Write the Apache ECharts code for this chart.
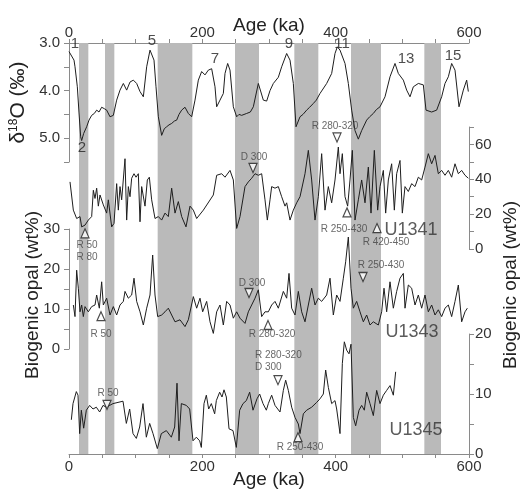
<!DOCTYPE html>
<html>
<head>
<meta charset="utf-8">
<script src="https://cdn.jsdelivr.net/npm/echarts@6/dist/echarts.min.js"></script>
<style>
  html, body { margin: 0; padding: 0; background: #fff; }
  #chart { width: 525px; height: 491px; }
</style>
</head>
<body>
<div id="chart"></div>
<script>
// glacial stages (ka), grey bands
var bands = [[15, 29], [54, 68], [133, 185], [249, 285], [338, 374], [423, 468], [533, 558]]

// benthic stack d18O (permil) vs age (ka)
var d18o = [[0, 3.18], [7.5, 3.36], [9, 3.5], [12.5, 3.92], [15, 4.47], [17.5, 4.97], [19, 5.05], [22, 4.9], [26.5, 4.76], [30, 4.62],
  [34, 4.52], [38, 4.48], [41.5, 4.41], [45, 4.45], [49, 4.35], [53, 4.38], [56.5, 4.41], [61.5, 4.55], [66.5, 4.52], [71.5, 4.2],
  [76.5, 3.99], [81.5, 3.85], [86.5, 3.99], [91.5, 3.82], [96.5, 3.78], [101.5, 3.85], [106.5, 4.02], [111.5, 4.13], [116.5, 3.5],
  [121.5, 3.15], [124, 3.12], [127.5, 3.36], [130.5, 3.92], [134, 4.55], [139, 4.94], [143, 4.8], [146.5, 4.76], [150, 4.72],
  [154, 4.69], [158, 4.64], [161.5, 4.62], [165, 4.5], [169, 4.41], [174, 4.35], [179, 4.48], [184, 4.55], [189, 4.2], [194, 3.78],
  [199, 3.6], [204, 3.67], [209, 3.57], [214, 3.54], [216.5, 3.5], [219, 3.92], [221.5, 4.34], [226.5, 4.2], [231.5, 4.06],
  [234, 3.64], [238, 3.43], [241.5, 3.57], [246.5, 4.34], [251.5, 4.55], [255, 4.5], [259, 4.52], [266.5, 4.48], [272, 4.45],
  [276.5, 4.34], [284, 3.85], [291.5, 4.2], [296.5, 4.22], [301.5, 4.0], [306.5, 3.85], [314, 3.72], [319, 3.5], [326.5, 3.22],
  [331.5, 3.36], [336.5, 3.85], [340.5, 4.76], [346.5, 4.55], [351, 4.5], [356.5, 4.41], [361, 4.35], [366.5, 4.27], [371, 4.2],
  [376.5, 4.06], [386.5, 3.85], [394, 3.64], [399, 3.22], [402.5, 3.08], [406.5, 3.15], [414, 3.43], [419, 3.85], [424, 4.41],
  [429, 4.84], [434, 5.02], [439, 4.84], [446.5, 4.62], [451, 4.55], [456.5, 4.48], [461, 4.4], [466.5, 4.34], [474, 4.13],
  [481.5, 3.71], [489, 3.43], [494, 3.64], [501.5, 3.78], [506.5, 3.99], [511.5, 4.13], [516.5, 3.92], [524, 3.85], [531.5, 3.88],
  [535.5, 4.41], [544, 4.45], [551.5, 4.41], [559, 4.13], [564, 3.85], [569, 3.71], [574, 3.43], [579, 3.57], [585, 4.34],
  [591.5, 3.99], [596.5, 3.78], [599, 4.02]]

// biogenic opal (wt%) vs age (ka)
var u1341 = [[1.5, 38.5], [6.5, 22.3], [11.5, 17.5], [16.5, 18.6], [19, 12.7], [24, 13.7], [29, 16.6], [34, 18.6], [36.5, 33.7],
  [39, 29], [41.5, 34.9], [44, 24.6], [46.5, 31], [51.5, 25.3], [56.5, 20.6], [59, 28.2], [64, 12.7], [67.5, 14.7], [71.5, 37.5],
  [74, 22.3], [76.5, 35.8], [79, 28.2], [84, 51.8], [86.5, 16.6], [89, 35.8], [91.5, 30], [94, 40.6], [97.5, 43.2], [100.5, 41.2],
  [104, 43.2], [106.5, 15.6], [109, 35.8], [114, 24.6], [117.5, 39.6], [120.5, 41.2], [124, 28.2], [129, 17.5], [134, 18.6],
  [139, 16.6], [144, 20.6], [149, 18.6], [154, 34.9], [159, 20.6], [164, 27.2], [169, 18.6], [175.5, 12.7], [181.5, 24.6],
  [186.5, 22.3], [191.5, 17.5], [201.5, 22.3], [216.5, 31], [221.5, 42.3], [229, 43.2], [234, 41.2], [241.5, 45.1], [246.5, 39.6],
  [251.5, 11.8], [256.5, 18.6], [264, 35.8], [269, 38.5], [274, 40.6], [279, 43.2], [284, 42.3], [289, 43.2], [294, 28.2],
  [297.5, 16.6], [301.5, 28.2], [304, 35.8], [309, 34.9], [314, 35.8], [319, 30], [324, 24.6], [326.5, 26.5], [331.5, 16.6],
  [336.5, 22.3], [341.5, 26.5], [346.5, 30], [354, 43.2], [359, 56.6], [364, 39.6], [369, 16.6], [374, 30], [379, 54.7],
  [384, 22.3], [389, 35.8], [394, 26.5], [399, 39.6], [404, 58.5], [406.5, 43.2], [410, 54.7], [414, 30], [418, 24.6],
  [421.5, 39.6], [425, 56.6], [429, 16.6], [434, 28.2], [439, 39.6], [444, 26.5], [449, 47], [453, 20.6], [458, 56.6],
  [463, 22.3], [466.5, 35.8], [471.5, 45.1], [475, 20.6], [479, 39.6], [484, 48.9], [488, 22.3], [491.5, 43.2], [496.5, 50.8],
  [500, 20.6], [504, 35.8], [509, 33], [514, 37.5], [519, 35.8], [524, 41.2], [529, 39.6], [534, 47], [539, 54.7], [544, 48.9],
  [549, 53.7], [554, 43.2], [559, 45.1], [564, 42.3], [569, 45.1], [574, 41.2], [579, 48.9], [584, 43.2], [589, 45.1],
  [594, 42.3], [599, 40.6]]

var u1343 = [[6.5, 11], [9, 8.1], [11.5, 19.7], [14, 15.2], [16.5, 9.3], [19, 11], [21.5, 8.1], [24, 10.6], [29, 9.3], [34, 10.6],
  [39, 11], [41.5, 13.5], [45.5, 10.2], [49, 16.8], [51.5, 11], [56.5, 12.7], [61.5, 8.5], [66.5, 10.6], [71.5, 8.5], [76.5, 11],
  [81.5, 11.9], [84, 14.4], [89, 12.7], [94, 13.5], [97.5, 17.7], [101.5, 11.9], [106.5, 9.3], [111.5, 6], [116.5, 10.2],
  [121.5, 13.5], [125.5, 23.5], [129, 13.5], [133, 8.1], [139, 8.5], [144, 9.3], [149, 10.2], [154, 8.5], [159, 6.8],
  [166.5, 7.3], [174, 5.6], [179, 7.3], [186.5, 13.1], [191.5, 10.2], [196.5, 12.7], [200.5, 9.3], [206.5, 11.9], [211.5, 6.8],
  [216.5, 3.9], [221.5, 9.3], [226.5, 11], [231.5, 6], [236.5, 11.9], [241.5, 11], [246.5, 7.7], [251.5, 9.3], [256.5, 7.7],
  [264, 6.4], [269, 9.3], [274, 11], [279, 12.7], [284, 14.8], [289, 8.1], [294, 9.3], [299, 9.3], [304, 11], [309, 11.9],
  [314, 10.2], [321.5, 14.4], [326.5, 12.7], [330, 18.9], [334, 10.2], [339, 8.5], [344, 14.4], [349, 9.3], [354, 6.8],
  [359, 11], [364, 15.2], [369, 11], [374, 12.7], [379, 11.9], [386.5, 13.5], [391.5, 17.7], [396.5, 8.5], [401.5, 13.5],
  [406.5, 11.9], [411.5, 17.7], [415, 21.8], [419, 28], [423, 15.2], [426.5, 10.2], [431.5, 11.9], [436.5, 9.3], [441.5, 6.8],
  [446.5, 8.5], [451.5, 6], [456.5, 6.8], [464, 6], [469, 9.3], [472.5, 15.2], [476.5, 9.3], [481.5, 16.8], [486.5, 10.2],
  [491.5, 14.4], [496.5, 17.7], [501.5, 18.9], [504, 10.2], [509, 16], [514, 15.2], [519, 11], [524, 13.5], [529, 10.2],
  [534, 13.5], [539, 9.3], [544, 11], [549, 8.5], [554, 9.8], [559, 8.1], [564, 10.2], [569, 11], [574, 8.1], [579, 11.9],
  [584, 16], [589, 6.8], [594, 9.3], [597.5, 10.2]]

var u1345 = [[3.5, 5.7], [6, 8.4], [11, 10.4], [13.5, 9.8], [16, 3.4], [18.5, 7.3], [22, 4.3], [26, 7.3], [31, 8.1], [36, 7.5],
  [41, 7.8], [46, 7], [51, 8.1], [56, 7.8], [61, 8.1], [66, 8.4], [73.5, 8.6], [81, 8.8], [86, 5.1], [91, 7.5], [96, 3.4],
  [101, 2.6], [106, 4.5], [111, 8.4], [116, 2.8], [121, 5.1], [126, 3.4], [132.5, 0.9], [138.5, 3.4], [146, 3.9], [153.5, 2.8],
  [158.5, 4.5], [162, 11.8], [165, 2.2], [168.5, 8.4], [176, 8.1], [181, 7.5], [186, 2.2], [191, 2.8], [196, 2.2], [198.5, 1.1],
  [202.5, 8.4], [206, 9.8], [209.5, 7.5], [213.5, 8.4], [218.5, 6.7], [221, 8.9], [226, 10.3], [229.5, 9.5], [232.5, 10.7],
  [236, 9.5], [240, 4.2], [246, 3.9], [251, 1.1], [256, 7.3], [261, 8.4], [266, 8.9], [271, 10.3], [276, 7.3], [282, 9.2],
  [286, 10], [291, 8.4], [296, 7.3], [299, 8.4], [304, 9.8], [309, 8.1], [316.5, 7], [321.5, 10.6], [325, 12.3], [329, 10.6],
  [334, 7.8], [339, 6.1], [344, 5], [346.5, 3.4], [351.5, 6.7], [356.5, 7.3], [364, 7.8], [371.5, 8.6], [376.5, 9.2],
  [381.5, 10], [385, 14], [389, 11.1], [394, 8.4], [399, 8.9], [401.5, 7.5], [406.5, 3.4], [410, 15.1], [413, 18.7],
  [416.5, 17.3], [420, 16.7], [423, 18.3], [426.5, 6.1], [430, 4.7], [435, 7.3], [439, 8.1], [443, 7.3], [446.5, 10.3],
  [451.5, 8.4], [456.5, 6.4], [461.5, 10.6], [466.5, 8.4], [471.5, 9.8], [476.5, 10.6], [481.5, 11.4], [486.5, 9.8], [490, 13.7]]

// marine isotope stage numbers on the d18O curve
var stageLabels = [[9, 3.02, '1'], [19.5, 5.2, '2'], [124.5, 2.96, '5'], [219, 3.34, '7'], [330, 3.02, '9'],
  [409.5, 3.02, '11'], [505.5, 3.34, '13'], [576, 3.27, '15']]

// core tie points: [age, value, direction]
var u1341Tri = [[24, 9, 'up'], [276, 46.5, 'down'], [402, 64, 'down'], [417, 21, 'up'], [462, 12, 'up']]
var u1343Tri = [[48, 8.2, 'up'], [270, 14, 'down'], [298.5, 6, 'up'], [441, 18, 'down']]
var u1345Tri = [[57, 8.2, 'down'], [313.5, 12.3, 'down'], [343.5, 2.8, 'up']]

var u1341Notes = [[27, -1.1, 'R 50\nR 80'], [277.5, 52.8, 'D 300'], [399, 70.6, 'R 280-320'], [412.5, 11.5, 'R 250-430'],
  [475.5, 4, 'R 420-450']]
var u1343Notes = [[48, 3.75, 'R 50'], [274.5, 16.5, 'D 300'], [304.5, 3.75, 'R 280-320'], [468, 21, 'R 250-430']]
var u1345Notes = [[58.5, 10.2, 'R 50'], [279, 15.5, 'R 280-320\nD 300', 'left'], [346.5, 1.2, 'R 250-430']]
var siteNames = [['U1341', 513, 11, 2], ['U1343', 514.5, 4.25, 3], ['U1345', 520.5, 4, 4]]

var FONT = 'Liberation Sans, Arial, sans-serif'
var AXIS_GREY = '#8a8a8a'
var INK = '#1e1e1e'

function grid (top, height) {
  return { left: 69, width: 400, top: top, height: height, outerBoundsMode: 'none' }
}

// mode: 'ticks' = line, ticks and labels; 'name' = only the axis title; otherwise hidden
function ageAxis (gi, pos, mode) {
  var ticks = mode === 'ticks'
  var named = mode === 'name' || (ticks && pos === 'bottom')
  return {
    type: 'value', gridIndex: gi, min: 0, max: 600, interval: 50,
    position: pos || 'bottom', show: !!mode,
    name: named ? 'Age (ka)' : '', nameLocation: 'middle', nameMoveOverlap: false,
    nameGap: pos === 'top' ? 8 : 16,
    nameTextStyle: { fontFamily: FONT, fontSize: 19, color: '#222' },
    axisLine: { show: ticks, onZero: false, lineStyle: { color: AXIS_GREY } },
    axisTick: { show: ticks, length: 4, lineStyle: { color: AXIS_GREY } },
    axisLabel: {
      // top labels sit too high in this build, pulled back down by hand
      show: ticks, margin: pos === 'top' ? 3 : 5, fontFamily: FONT, fontSize: 15, color: '#333',
      formatter: function (v) { return v % 200 === 0 ? String(v) : '' }
    },
    splitLine: { show: false }
  }
}

function valueAxis (gi, pos, min, max, step, every, digits) {
  return {
    type: 'value', gridIndex: gi, position: pos, min: min, max: max, interval: step,
    axisLine: { show: true, onZero: false, lineStyle: { color: AXIS_GREY } },
    axisTick: { show: true, length: 5, lineStyle: { color: AXIS_GREY } },
    axisLabel: {
      margin: pos === 'left' ? 9 : 6, fontFamily: FONT, fontSize: 15, color: '#333',
      formatter: function (v) {
        var k = Math.round((v - min) / every * 1000) / 1000
        return k === Math.round(k) ? v.toFixed(digits) : ''
      }
    },
    splitLine: { show: false }
  }
}

function curve (data, gi) {
  return {
    type: 'line', xAxisIndex: gi, yAxisIndex: gi, data: data, symbol: 'none', z: 3,
    lineStyle: { color: INK, width: 1 }, clip: false
  }
}

function triangles (list, gi) {
  return {
    type: 'scatter', xAxisIndex: gi, yAxisIndex: gi, z: 5, clip: false, symbol: 'triangle', symbolSize: [8, 9],
    itemStyle: { color: '#fff', borderColor: INK, borderWidth: 1.2 },
    data: list.map(function (t) {
      return { value: [t[0], t[1]], symbolRotate: t[2] === 'down' ? 180 : 0 }
    })
  }
}

function notes (list, gi, size, colour) {
  return {
    type: 'scatter', xAxisIndex: gi, yAxisIndex: gi, z: 6, clip: false, symbolSize: 1,
    itemStyle: { color: 'rgba(0,0,0,0)' }, silent: true,
    data: list.map(function (n) {
      return {
        value: [n[0], n[1]], name: n[2],
        label: { align: n[3] || 'center' }
      }
    }),
    label: {
      show: true, position: 'inside', fontFamily: FONT, fontSize: size, color: colour, lineHeight: size + 2,
      formatter: function (p) { return p.name }
    }
  }
}

var dom = document.getElementById('chart')
var chart = echarts.init(dom, null, { renderer: 'canvas' })

var sites = siteNames.map(function (s) {
  return notes([[s[1], s[2], s[0]]], s[3], 18, '#333')
})

chart.setOption({
  animation: false,
  backgroundColor: '#fff',
  grid: [grid(43, 411), grid(43, 119), grid(127, 122), grid(229, 120), grid(334, 120)],
  xAxis: [ageAxis(0, 'top', 'ticks'), ageAxis(1, 'top', 'name'), ageAxis(2), ageAxis(3), ageAxis(4, 'bottom', 'ticks')],
  yAxis: [
    { type: 'value', gridIndex: 0, min: 0, max: 1, show: false },
    (function () {
      var a = valueAxis(1, 'left', 3, 5.5, 0.5, 1, 1)
      a.inverse = true
      a.name = 'δ{s|18}O (‰)'
      a.nameLocation = 'middle'
      a.nameGap = 32
      a.nameTextStyle = {
        fontFamily: FONT, fontSize: 21, color: '#222',
        rich: { s: { fontFamily: FONT, fontSize: 12, color: '#222', verticalAlign: 'top' } }
      }
      return a
    })(),
    valueAxis(2, 'right', 0, 70, 10, 20, 0),
    valueAxis(3, 'left', 0, 30, 5, 10, 0),
    valueAxis(4, 'right', 0, 20, 5, 10, 0)
  ],
  graphic: [
    { type: 'text', x: 33, y: 295, rotation: Math.PI / 2,
      style: { text: 'Biogenic opal (wt%)', font: '19px ' + FONT, fill: '#222', align: 'center', verticalAlign: 'middle' } },
    { type: 'text', x: 511, y: 285, rotation: Math.PI / 2,
      style: { text: 'Biogenic opal (wt%)', font: '19px ' + FONT, fill: '#222', align: 'center', verticalAlign: 'middle' } }
  ],
  series: [
    {
      type: 'custom', xAxisIndex: 0, yAxisIndex: 0, z: 1, data: bands,
      renderItem: function (params, api) {
        var a = api.coord([api.value(0), 1])
        var b = api.coord([api.value(1), 0])
        return { type: 'rect', shape: { x: a[0], y: a[1], width: b[0] - a[0], height: b[1] - a[1] }, style: { fill: '#bababa' } }
      }
    },
    curve(d18o, 1),
    curve(u1341, 2),
    curve(u1343, 3),
    curve(u1345, 4),
    notes(stageLabels.map(function (s) { return [s[0], s[1], s[2]] }), 1, 15, '#222'),
    triangles(u1341Tri, 2),
    triangles(u1343Tri, 3),
    triangles(u1345Tri, 4),
    notes(u1341Notes, 2, 10, '#444'),
    notes(u1343Notes, 3, 10, '#444'),
    notes(u1345Notes, 4, 10, '#444')
  ].concat(sites)
})
</script>
</body>
</html>
